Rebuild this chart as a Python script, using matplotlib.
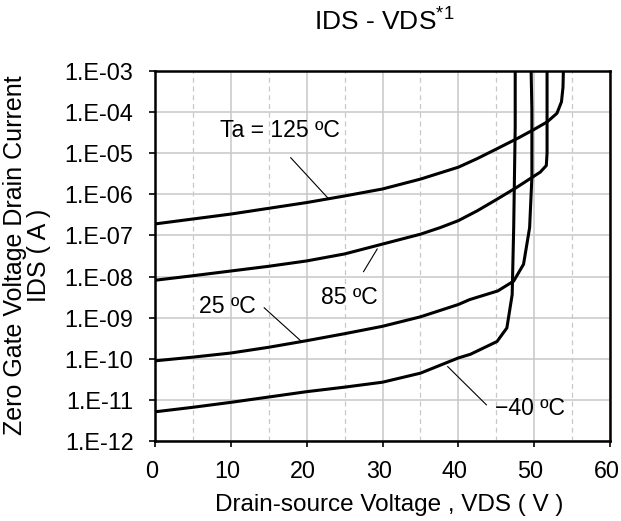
import numpy as np
import matplotlib
matplotlib.use("Agg")
import matplotlib.pyplot as plt
from matplotlib.ticker import FixedLocator, FixedFormatter, MultipleLocator
from matplotlib.transforms import ScaledTranslation

plt.rcParams['font.family'] = ['Liberation Sans', 'DejaVu Sans']
plt.rcParams['mathtext.fontset'] = 'custom'
plt.rcParams['mathtext.rm'] = 'Liberation Sans'
plt.rcParams['mathtext.it'] = 'Liberation Sans'

# drain-source voltage (V) and log10 of drain current (A)
vds_125 = [0, 5, 10, 15, 20, 25, 30, 35, 40, 42.5, 45, 48, 50, 51.7, 53, 53.6, 53.8, 53.85, 53.85]
log_125 = [-6.72, -6.60, -6.48, -6.34, -6.20, -6.04, -5.87, -5.63, -5.34, -5.13, -4.90,
           -4.62, -4.42, -4.24, -4.03, -3.75, -3.40, -3.0, -2.8]

vds_85 = [0, 5, 10, 15, 20, 25, 30, 35, 37.6, 40, 42.5, 45, 47.7, 50.8, 51.6, 51.7, 51.7, 51.7, 51.7]
log_85 = [-8.09, -7.98, -7.865, -7.75, -7.62, -7.45, -7.21, -6.97, -6.81, -6.64, -6.40,
          -6.13, -5.83, -5.46, -5.30, -5.0, -4.0, -3.0, -2.8]

vds_25 = [0, 5, 10, 15, 20, 25, 30, 35, 40, 41.5, 45.2, 47.3, 48.6, 49.4, 49.7, 49.7, 49.6, 49.6]
log_25 = [-10.05, -9.96, -9.86, -9.72, -9.56, -9.39, -9.21, -8.98, -8.68, -8.56, -8.35,
          -8.11, -7.70, -6.81, -5.58, -3.95, -3.0, -2.8]

vds_m40 = [0, 5, 10, 15, 20, 25, 30, 35, 40, 41.6, 45.1, 46.4, 47.1, 47.3, 47.5, 47.5, 47.5]
log_m40 = [-11.29, -11.18, -11.06, -10.93, -10.80, -10.69, -10.57, -10.35, -9.98, -9.89,
           -9.58, -9.25, -8.44, -6.81, -4.36, -3.0, -2.8]

ytick_vals = [1e-12, 1e-11, 1e-10, 1e-9, 1e-8, 1e-7, 1e-6, 1e-5, 1e-4, 1e-3]
ytick_labels = ['1.E-12', '1.E-11', '1.E-10', '1.E-09', '1.E-08',
                '1.E-07', '1.E-06', '1.E-05', '1.E-04', '1.E-03']

fig = plt.figure(figsize=(6.21, 5.21), dpi=100)
ax = fig.add_axes([155 / 621, 1 - 441 / 521, 455 / 621, 370 / 521])

for v, lg in [(vds_125, log_125), (vds_85, log_85), (vds_25, log_25), (vds_m40, log_m40)]:
    ax.plot(v, 10 ** np.array(lg), color='black', lw=2.2, solid_capstyle='butt',
            solid_joinstyle='round', zorder=3)

ax.set_yscale('log')
ax.set_xlim(0, 60)
ax.set_ylim(1e-12, 1e-3)
ax.yaxis.set_major_locator(FixedLocator(ytick_vals))
ax.yaxis.set_major_formatter(FixedFormatter(ytick_labels))
ax.yaxis.set_minor_locator(FixedLocator([]))
ax.xaxis.set_major_locator(MultipleLocator(10))
ax.xaxis.set_minor_locator(MultipleLocator(5))

ax.grid(which='major', color='#c8c8c8', lw=1.1, zorder=0)
ax.grid(which='minor', axis='x', color='#c8c8c8', lw=0.9, ls=(0, (4, 3)), zorder=0)
ax.set_axisbelow(True)

for s in ax.spines.values():
    s.set_linewidth(1.8)
ax.tick_params(which='major', direction='out', length=4.5, width=1.2, labelsize=16.8)
ax.tick_params(which='minor', length=0)
ax.tick_params(axis='y', pad=11)
ax.tick_params(axis='x', pad=9)
shift = ScaledTranslation(-3.5 / 100, 0, fig.dpi_scale_trans)
for lab in ax.get_xticklabels():
    lab.set_transform(lab.get_transform() + shift)

# labels with leader lines
fa = 16.6
ax.text(16.5, 10 ** -4.44, 'Ta = 125 \u00baC', fontsize=fa, ha='center', va='center')
ax.plot([17.9, 22.9], [10 ** -5.11, 10 ** -6.11], color='black', lw=0.8)
ax.text(25.6, 10 ** -8.52, '85 \u00baC', fontsize=fa, ha='center', va='center')
ax.plot([27.5, 29.3], [10 ** -7.88, 10 ** -7.33], color='black', lw=0.8)
ax.text(9.5, 10 ** -8.72, '25 \u00baC', fontsize=fa, ha='center', va='center')
ax.plot([14.4, 19.2], [10 ** -8.76, 10 ** -9.56], color='black', lw=0.8)
ax.text(49.4, 10 ** -11.21, '\u221240 \u00baC', fontsize=fa, ha='center', va='center')
ax.plot([43.7, 38.6], [10 ** -11.12, 10 ** -10.19], color='black', lw=0.8)

fig.text(384 / 621, 1 - 22 / 521, 'IDS - VDS$^{\\mathrm{*1}}$', fontsize=19,
         ha='center', va='center')
fig.text(389 / 621, 1 - 505 / 521, 'Drain-source Voltage , VDS ( V )', fontsize=17.5,
         ha='center', va='center')
fig.text(27 / 621, 1 - 255 / 521, 'Zero Gate Voltage Drain Current\nIDS ( A )',
         fontsize=18, ha='center', va='center', rotation=90, multialignment='center',
         linespacing=0.95)

fig.savefig('out.png', dpi=100)
